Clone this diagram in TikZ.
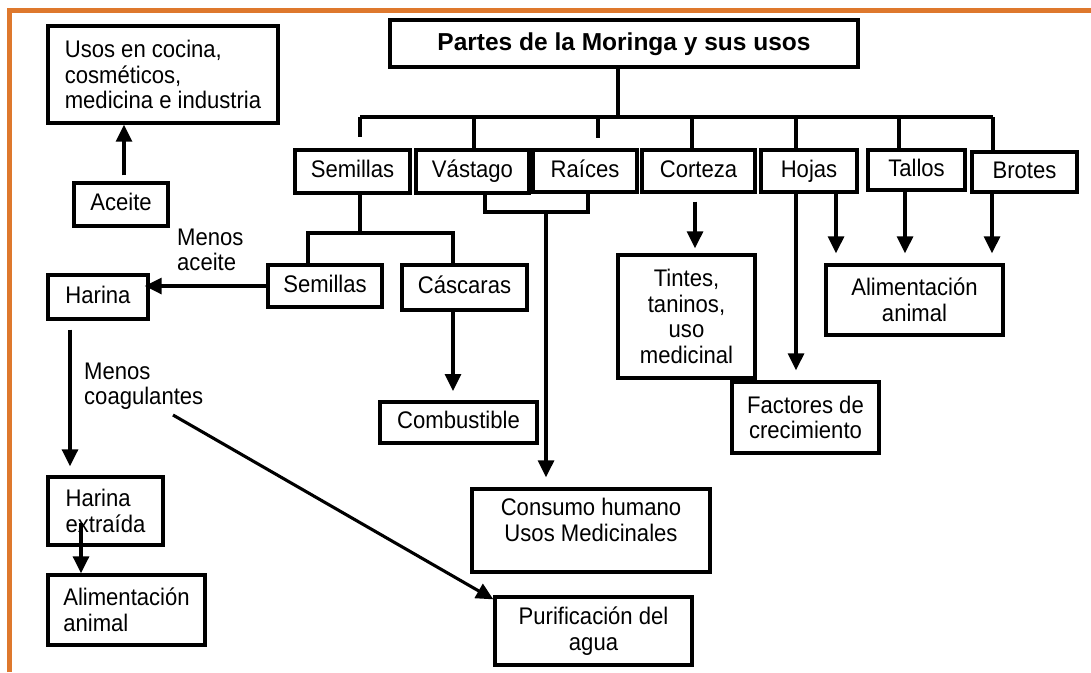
\documentclass[tikz,border=0pt]{standalone}
\usepackage{fontspec}
\setmainfont{Liberation Sans}[FakeStretch=0.92]
\newfontfamily\titlefont{Liberation Sans}
\usetikzlibrary{arrows.meta,calc}
\definecolor{frameorange}{RGB}{222,120,45}
\begin{document}
\begin{tikzpicture}[x=1pt,y=-1pt,
  box/.style={draw, line width=3.3pt, inner sep=0pt, font=\fontsize{24}{25.5}\selectfont, align=center},
  sbox/.style={box, text height=17.5pt, text depth=5pt},
  lbox/.style={box, align=left},
  thick box/.style={box, line width=3.9pt},
  lbl/.style={inner sep=0pt, font=\fontsize{24}{25.5}\selectfont, align=left},
  ln/.style={line width=3.1pt},
  arr/.style={line width=3.1pt, -{Triangle[width=16pt,length=17pt]}},
]
\fill[white] (0,0) rectangle (1091,672);
\useasboundingbox (0,0) rectangle (1091,672);
\draw[frameorange, line width=5pt] (9,672) -- (9,10) -- (1091,10);

% nodes
\node[thick box, minimum width=468pt, minimum height=47pt, text height=18pt, text depth=5pt, font=\titlefont\fontsize{24.5}{28}\bfseries] (title) at (624,43.5) {Partes de la Moringa y sus usos};
\node[lbox, minimum width=230pt, minimum height=97pt] (usos) at (163,74.5) {Usos en cocina,\\cosméticos,\\medicina e industria};
\node[sbox, minimum width=94pt, minimum height=43pt] (aceite) at (121,204.5) {Aceite};

\node[sbox, minimum width=115pt, minimum height=43pt] (semA) at (352.5,171.5) {Semillas};
\node[sbox, minimum width=113pt, minimum height=43pt] (vast) at (472.5,171.5) {Vástago};
\node[sbox, minimum width=104pt, minimum height=42pt] (raices) at (585,171) {Raíces};
\node[sbox, minimum width=113pt, minimum height=42pt] (corteza) at (698.5,171) {Corteza};
\node[sbox, minimum width=96pt, minimum height=42pt] (hojas) at (809,171) {Hojas};
\node[sbox, minimum width=97pt, minimum height=40pt] (tallos) at (916.5,170) {Tallos};
\node[sbox, minimum width=105pt, minimum height=40pt] (brotes) at (1024.5,172) {Brotes};

\node[sbox, minimum width=114pt, minimum height=42pt] (semB) at (325,286) {Semillas};
\node[thick box, text height=17.5pt, text depth=5pt, minimum width=125pt, minimum height=45pt] (cascaras) at (464.5,287.5) {Cáscaras};
\node[sbox, minimum width=100pt, minimum height=44pt] (harina) at (98,297) {Harina};
\node[thick box, text height=17.5pt, text depth=5pt, minimum width=157pt, minimum height=41pt] (combustible) at (458.5,422.5) {Combustible};
\node[box, minimum width=137pt, minimum height=123pt] (tintes) at (686.5,316.5) {Tintes,\\taninos,\\uso\\medicinal};
\node[box, minimum width=147pt, minimum height=71pt] (factores) at (805.5,417.5) {Factores de\\crecimiento};
\node[box, minimum width=177pt, minimum height=70pt] (alimR) at (914.5,300) {Alimentación\\animal};
\node[box, minimum width=238pt, minimum height=83pt, text depth=21pt] (consumo) at (591,530.5) {Consumo humano\\Usos Medicinales};
\node[box, minimum width=197pt, minimum height=68pt] (purif) at (593.5,631) {Purificación del\\agua};
\node[lbox, minimum width=115pt, minimum height=68pt] (harinaEx) at (105.5,511) {Harina\\extraída};
\node[lbox, minimum width=157pt, minimum height=70pt] (alimL) at (126.5,610) {Alimentación\\animal};

\node[lbl, anchor=west] (menosA) at (177,250) {Menos\\aceite};
\node[lbl, anchor=west] (menosC) at (84,386) {Menos\\coagulantes};

% main bus
\coordinate (d0) at (618,117);
\coordinate (d1) at (360,117);
\coordinate (d2) at (474,117);
\coordinate (d3) at (598,117);
\coordinate (d4) at (692,117);
\coordinate (d5) at (796,117);
\coordinate (d6) at (899,117);
\coordinate (d7) at (993,117);
\draw[ln] (title.south -| d0) -- (d0);
\draw[ln] (d1) -- (d7);
\draw[ln] (d1) -- ++(0,20);
\draw[ln] (d2) -- (d2 |- vast.north);
\draw[line width=4.8pt] (d3) -- ++(0,21);
\draw[ln] (d4) -- (d4 |- corteza.north);
\draw[ln] (d5) -- (d5 |- hojas.north);
\draw[ln] (d6) -- (d6 |- tallos.north);
\draw[ln] (d7) -- (d7 |- brotes.north);

% Vastago / Raices
\coordinate (vj) at ([xshift=12.5pt]vast.south);
\coordinate (rj) at ([xshift=3pt]raices.south);
\coordinate (j) at (546,212);
\draw[ln] (vj) |- (j) -| (rj);
\draw[arr, shorten >=10pt] (j) -- (j |- consumo.north);

% Semillas split
\coordinate (s) at (360,233);
\coordinate (sl) at (308,233);
\coordinate (sr) at (453,233);
\draw[ln] (semA.south -| s) -- (s);
\draw[ln] (sl |- semB.north) -- (sl) -- (sr) -- (sr |- cascaras.north);
\draw[arr, shorten >=9pt] (sr |- cascaras.south) -- (sr |- combustible.north);

% Harina chain
\draw[arr, shorten >=-5pt] (semB.west) -- (semB.west -| harina.east);
\coordinate (hx) at (70,0);
\draw[arr, shorten <=9pt, shorten >=9pt] (hx |- harina.south) -- (hx |- harinaEx.north);
\coordinate (hx2) at (81,523);
\draw[arr] (hx2) -- (hx2 |- alimL.north);
\coordinate (cg) at (173,415);
\draw[arr] (cg) -- ([yshift=-4pt]purif.north west);

% Aceite
\coordinate (ax) at (124,0);
\draw[arr, shorten <=6pt] (ax |- aceite.north) -- (ax |- usos.south);

% Corteza, Hojas, Tallos, Brotes
\coordinate (cx) at (695,0);
\draw[arr, shorten <=8pt, shorten >=5pt] (cx |- corteza.south) -- (cx |- tintes.north);
\coordinate (h1) at (796,0);
\draw[arr, shorten >=10pt] (h1 |- hojas.south) -- (h1 |- factores.north);
\coordinate (h2) at (836,0);
\draw[arr, shorten >=10pt] (h2 |- hojas.south) -- (h2 |- alimR.north);
\coordinate (t1) at (905,0);
\draw[arr, shorten >=10pt] (t1 |- tallos.south) -- (t1 |- alimR.north);
\coordinate (b1) at (992,0);
\draw[arr, shorten >=10pt] (b1 |- brotes.south) -- (b1 |- alimR.north);
\end{tikzpicture}
\end{document}
